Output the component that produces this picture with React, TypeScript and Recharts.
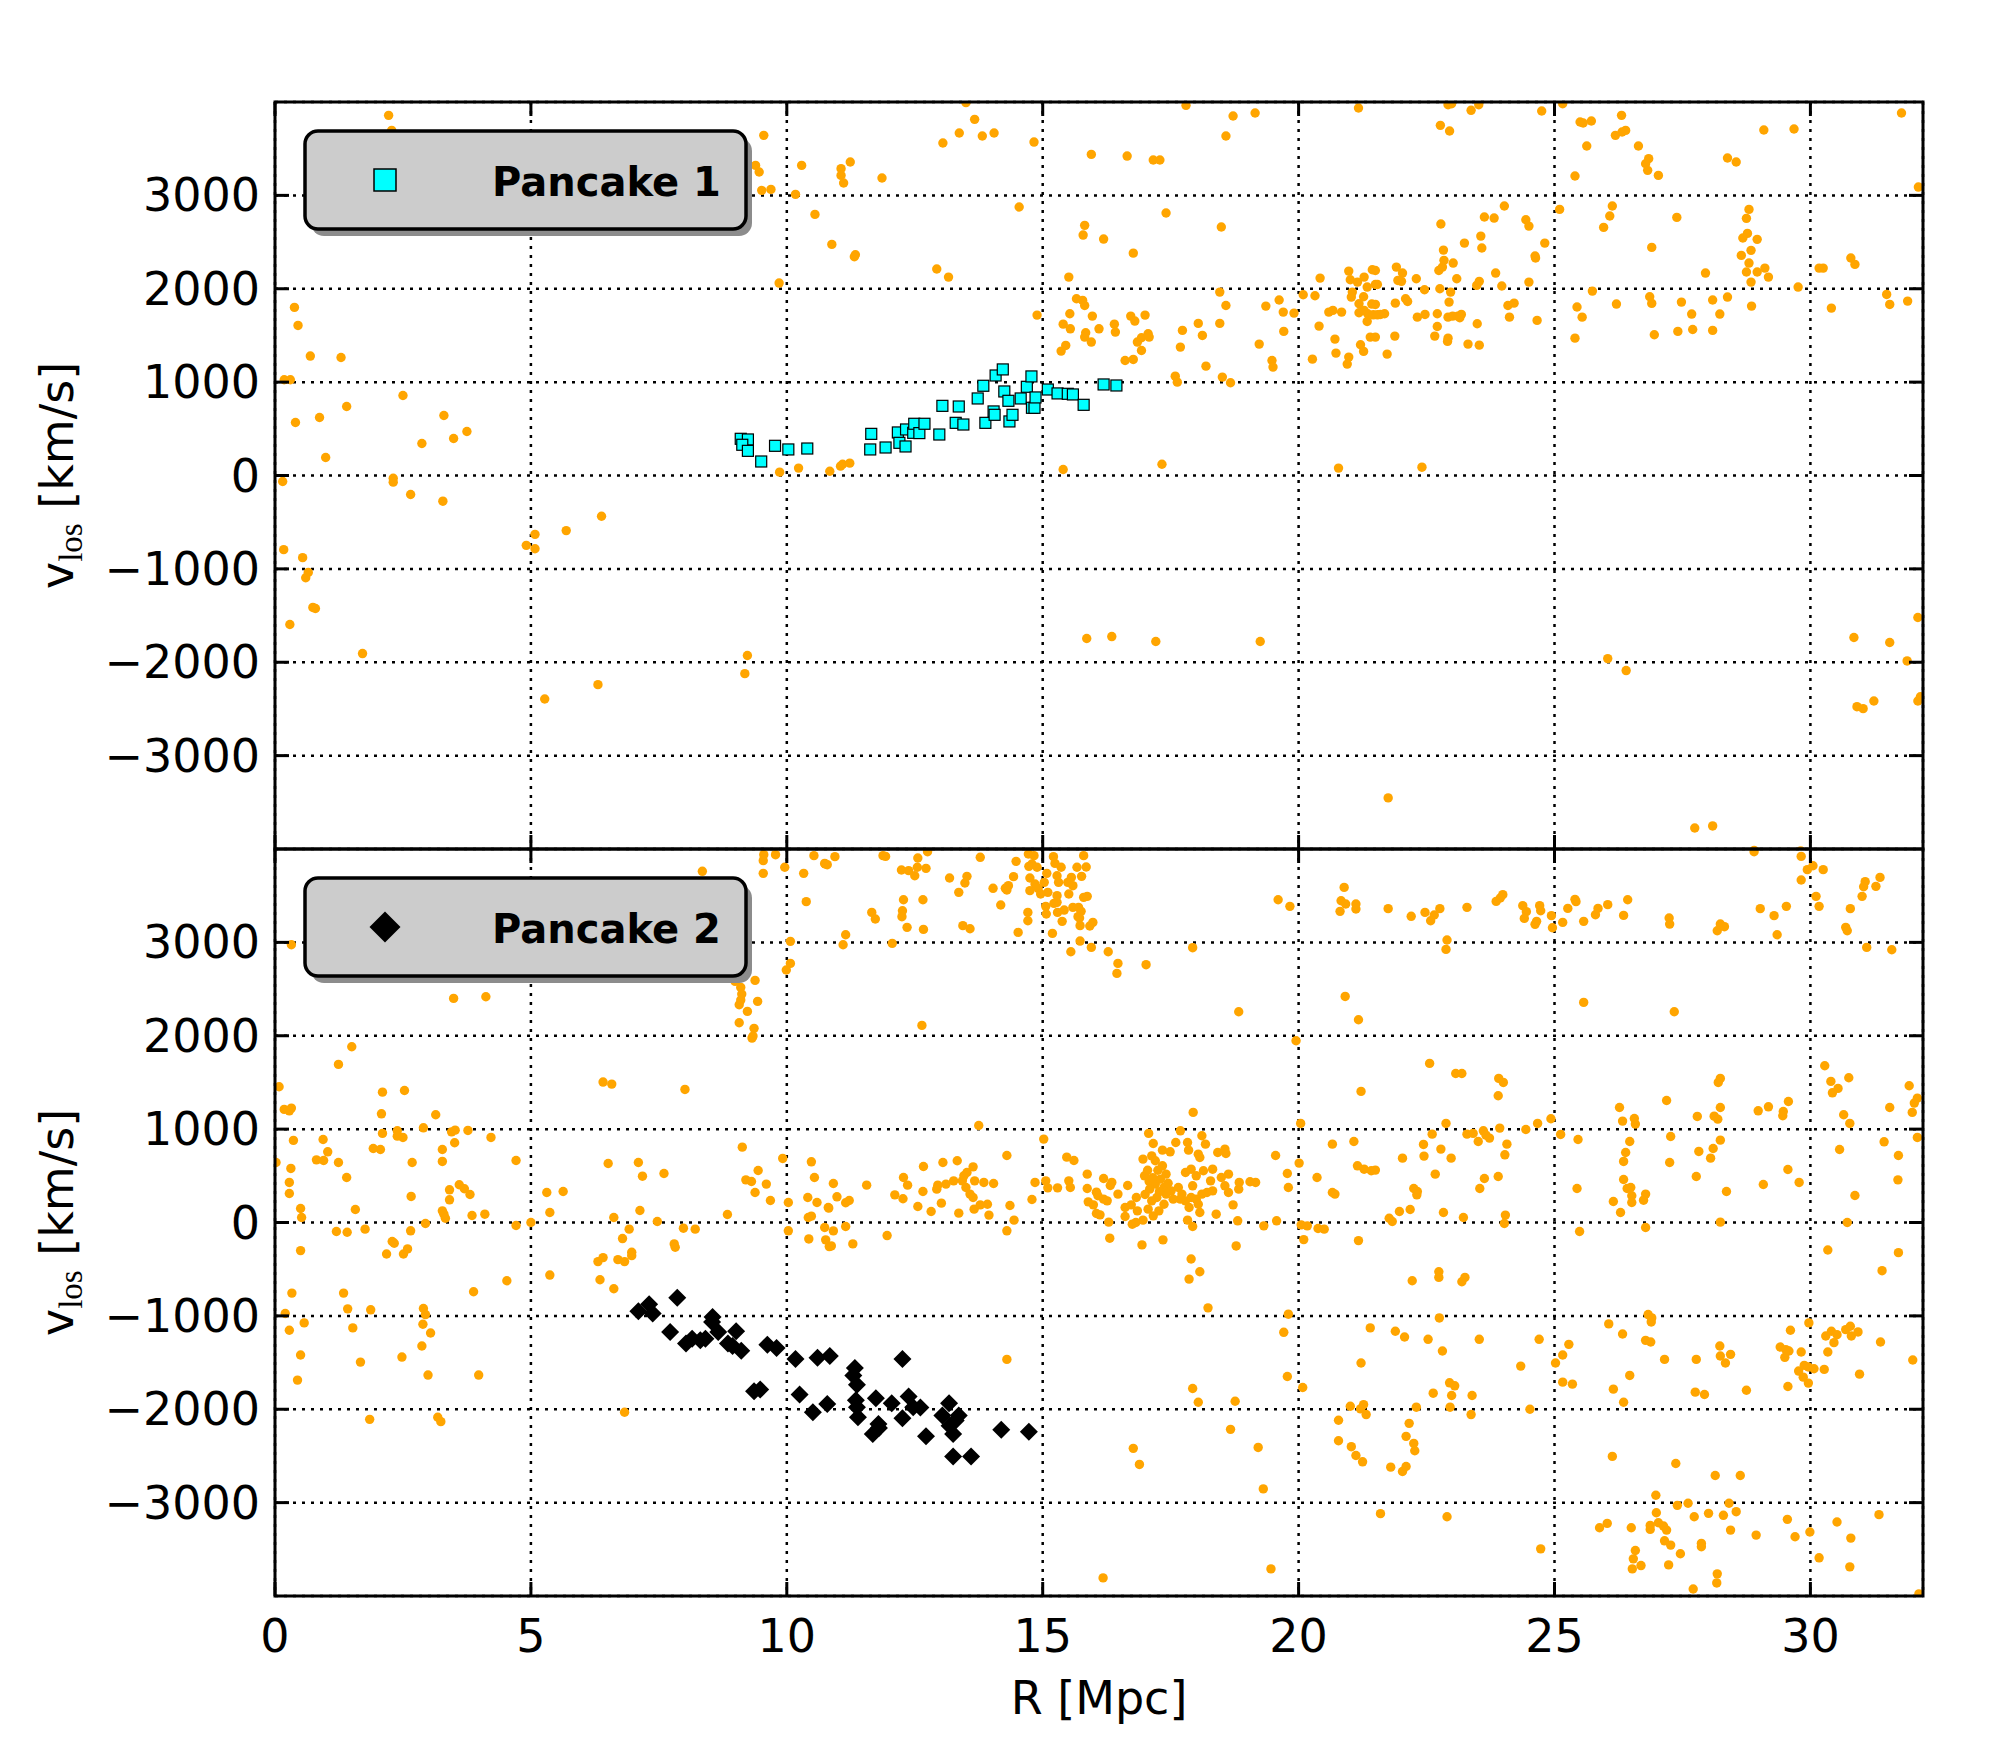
import { CartesianGrid, Scatter, ScatterChart, XAxis, YAxis } from "recharts";

type Pt = [number, number];

// [R in Mpc, v_los in km/s]
const topField: Pt[] = [
  [2.22, 3857], [2.28, 3696], [9.55, 3643], [9.39, 3321], [9.46, 3250], [10.29, 3321], [9.51, 3054], [9.69, 3064],
  [10.17, 3011], [10.55, 2796], [10.88, 2475], [9.85, 2061], [0.38, 1800], [0.45, 1607], [0.69, 1279], [1.29, 1264],
  [0.18, 1025], [0.30, 1025], [2.50, 857], [1.40, 739], [0.87, 621], [0.40, 568], [3.30, 643], [3.75, 471],
  [3.49, 396], [2.87, 343], [0.99, 193], [0.15, -64], [2.31, -29], [2.31, -71], [9.86, 36], [10.23, 79], [10.84, 46],
  [13.50, 3993], [13.67, 3814], [13.37, 3668], [13.82, 3636], [14.05, 3668], [13.05, 3561], [14.83, 3571],
  [11.24, 3357], [11.06, 3286], [11.06, 3214], [11.11, 3132], [11.86, 3186], [15.95, 3439], [16.65, 3421],
  [17.16, 3379], [17.29, 3379], [17.80, 3964], [18.72, 3850], [19.15, 3882], [18.58, 3636], [21.17, 3936],
  [14.54, 2875], [17.41, 2811], [15.82, 2679], [15.79, 2575], [16.19, 2532], [16.77, 2382], [18.49, 2661],
  [11.34, 2364], [11.32, 2343], [12.93, 2211], [13.16, 2125], [15.51, 2125], [14.89, 1718],
  [20.98, 2189], [21.44, 2204], [21.28, 2125], [20.42, 2114], [21.50, 2046], [21.01, 2096], [21.15, 2071],
  [21.34, 2018], [20.09, 1936], [20.32, 1925], [21.03, 1911], [21.27, 1914], [21.05, 1964], [21.18, 1839],
  [21.43, 1836], [20.59, 1750], [20.67, 1768], [20.84, 1750], [21.18, 1743], [21.35, 1732], [21.28, 1768],
  [21.46, 1721], [21.60, 1725], [21.34, 1650], [20.40, 1600], [21.40, 1482], [21.21, 1400], [21.27, 1329],
  [20.71, 1461], [20.73, 1311], [20.98, 1268], [20.95, 1193], [20.27, 1246], [20.78, 79],
  [15.66, 1893], [15.78, 1875], [15.82, 1821], [15.53, 1732], [15.97, 1707], [15.40, 1621], [15.54, 1571],
  [16.10, 1571], [16.40, 1621], [16.42, 1536], [16.72, 1707], [16.80, 1654], [17.00, 1718], [15.84, 1529],
  [15.82, 1482], [15.95, 1429], [15.45, 1393], [15.36, 1332], [16.61, 1232], [16.77, 1243], [16.85, 1429],
  [16.93, 1475], [17.06, 1518], [17.08, 1482], [16.93, 1339], [17.73, 1554], [18.04, 1629], [18.12, 1500],
  [17.69, 1375], [18.46, 1964], [18.58, 1821], [18.46, 1629], [18.19, 1171], [17.59, 1064], [17.63, 1000],
  [18.51, 1054], [18.67, 993], [19.36, 1814], [19.62, 1879], [19.70, 1750], [19.91, 1739], [19.71, 1543],
  [19.23, 1407], [19.48, 1232], [19.50, 1161], [15.40, 64], [17.33, 121], [11.09, 121], [11.23, 132], [11.05, 100],
  [22.92, 3971], [22.99, 3982], [23.52, 3971], [23.37, 3911], [22.77, 3750], [22.95, 3689], [24.75, 3904],
  [25.16, 3982], [25.50, 3786], [25.56, 3775], [25.72, 3796], [26.31, 3857], [26.19, 3643], [26.32, 3679],
  [26.39, 3696], [25.63, 3529], [26.64, 3529], [26.84, 3393], [26.78, 3339], [26.82, 3268], [27.03, 3214],
  [25.40, 3207], [28.38, 3400], [28.55, 3357], [29.09, 3700], [29.68, 3711], [31.78, 3882], [32.11, 3089],
  [24.02, 2886], [23.63, 2768], [23.82, 2757], [22.78, 2693], [23.24, 2489], [23.56, 2564], [23.58, 2436],
  [24.44, 2739], [24.50, 2671], [24.81, 2489], [24.62, 2350], [24.63, 2329], [22.83, 2414], [22.84, 2304],
  [23.02, 2275], [22.74, 2196], [22.81, 2232], [21.91, 2232], [22.03, 2168], [21.94, 2089], [22.01, 2079],
  [21.50, 2196], [21.54, 2046], [22.30, 2107], [22.46, 1989], [22.76, 2000], [22.97, 1964], [23.09, 2107],
  [23.48, 2036], [23.53, 2079], [23.85, 2168], [23.97, 2029], [24.50, 2071], [22.94, 1857], [22.09, 1893],
  [22.13, 1864], [21.89, 1846], [21.50, 1832], [21.54, 1721], [21.68, 1732], [22.32, 1696], [22.47, 1725],
  [22.71, 1732], [22.92, 1696], [23.01, 1707], [23.11, 1707], [23.18, 1725], [23.15, 1689], [24.09, 1821],
  [24.21, 1846], [24.12, 1696], [24.66, 1661], [22.71, 1596], [23.49, 1625], [22.66, 1493], [21.88, 1493],
  [21.50, 1482], [22.92, 1471], [22.91, 1436], [23.31, 1407], [23.53, 1396], [21.73, 1300], [22.41, 89],
  [25.10, 2850], [26.13, 2886], [26.08, 2779], [25.96, 2657], [27.39, 2764], [26.90, 2443], [28.80, 2850],
  [28.75, 2754], [28.77, 2593], [28.68, 2543], [28.96, 2529], [28.84, 2411], [28.65, 2357], [28.80, 2275],
  [29.11, 2221], [28.75, 2179], [28.96, 2179], [29.18, 2125], [28.84, 2071], [27.95, 2168], [29.76, 2018],
  [30.17, 2221], [30.25, 2221], [30.79, 2329], [30.87, 2261], [25.74, 1975], [25.44, 1804], [25.54, 1696],
  [25.40, 1471], [26.21, 1836], [26.86, 1914], [26.90, 1843], [26.95, 1507], [27.48, 1857], [27.68, 1729],
  [27.41, 1543], [27.70, 1564], [28.09, 1879], [28.38, 1911], [28.23, 1729], [28.09, 1554], [28.85, 1814],
  [30.41, 1793], [31.49, 1939], [31.55, 1832], [31.90, 1868],
  [2.65, -204], [3.28, -275], [0.17, -794], [0.54, -880], [0.65, -1038], [0.60, -1095], [0.74, -1413],
  [0.79, -1424], [0.29, -1596], [1.71, -1907], [4.91, -748], [5.08, -630], [5.08, -784], [5.69, -590],
  [6.38, -436], [5.27, -2394], [6.31, -2240], [9.23, -1928], [9.18, -2122], [15.86, -1746], [16.35, -1725],
  [17.21, -1778], [19.25, -1778], [21.75, -3453], [26.04, -1961], [26.40, -2089], [27.74, -3775],
  [28.09, -3753], [28.90, -4015], [29.81, -4020], [30.85, -1735], [31.55, -1789], [32.10, -1521],
  [31.89, -1986], [30.91, -2476], [31.03, -2497], [31.24, -2415], [32.10, -2415], [32.15, -2369],
];

const pancake1: Pt[] = [
  [9.10, 393], [9.24, 386], [9.13, 329], [9.24, 264], [9.50, 150], [9.77, 318], [10.03, 279], [10.40, 289],
  [11.65, 446], [11.63, 279], [11.93, 300], [12.17, 461], [12.20, 350], [12.32, 311], [12.33, 493], [12.47, 457],
  [12.49, 554], [12.59, 454], [12.69, 554], [12.98, 439], [13.04, 746], [13.30, 564], [13.36, 739], [13.45, 546],
  [13.73, 825], [13.84, 961], [13.88, 564], [14.04, 686], [14.06, 650], [14.08, 1071], [14.22, 1136], [14.25, 900],
  [14.33, 800], [14.35, 579], [14.41, 650], [14.57, 825], [14.69, 950], [14.78, 1061], [14.79, 725], [14.84, 725],
  [14.86, 836], [15.10, 921], [15.29, 879], [15.49, 875], [15.59, 868], [15.80, 757], [16.19, 975], [16.44, 964],
];

const bottomField: Pt[] = [
  [0.32, 2975], [3.49, 2400], [4.12, 2418], [1.50, 1882], [1.24, 1693], [0.08, 1454], [2.10, 1396], [2.53, 1414],
  [0.18, 1211], [0.32, 1225], [0.28, 1196], [2.08, 1164], [3.14, 1154], [0.36, 879], [0.94, 889], [1.03, 757],
  [0.81, 671], [0.95, 664], [1.24, 643], [2.10, 954], [2.39, 982], [2.39, 925], [2.50, 911], [1.92, 793],
  [2.06, 782], [2.90, 1014], [3.45, 971], [3.52, 989], [3.77, 986], [3.51, 854], [3.27, 782], [3.27, 654],
  [4.22, 911], [2.68, 643], [4.71, 664], [0.02, 643], [0.31, 579], [0.28, 429], [0.28, 311], [1.40, 482],
  [1.57, 139], [0.50, 150], [0.52, 54], [2.66, 279], [3.41, 350], [3.60, 404], [3.70, 361], [3.81, 300],
  [3.41, 243], [3.27, 125], [3.30, 89], [3.33, 46], [3.85, 75], [4.10, 89], [2.94, -11], [4.71, -32], [5.00, 0],
  [1.20, -96], [1.41, -104], [1.76, -71], [2.65, -89], [5.31, 321], [5.63, 332], [5.37, 107], [6.41, 1504],
  [6.58, 1482], [8.01, 1425], [6.51, 632], [7.10, 643], [7.18, 496], [7.60, 525], [6.62, 54], [7.13, 129],
  [6.92, -71], [7.47, 11], [7.98, -61], [8.21, -71], [8.84, 86], [9.13, 807], [9.92, 686], [9.20, 457],
  [9.31, 439], [9.44, 557], [9.60, 411], [9.38, 321], [9.68, 236], [10.03, 214], [10.03, -89], [10.48, 650],
  [10.54, 482], [10.41, 268], [10.59, 214], [10.81, 161], [10.42, 54], [10.48, 68], [10.74, -54],
  [8.35, 3761], [9.54, 3875], [9.55, 3939], [9.78, 3939], [9.54, 3739], [9.96, 3804], [10.33, 3739],
  [10.53, 3929], [10.74, 3846], [10.79, 3832], [10.38, 3436], [10.07, 3011], [10.07, 2775], [9.99, 2704],
  [9.38, 2593], [8.99, 2582], [9.10, 2518], [9.12, 2446], [9.10, 2382], [9.07, 2332], [9.43, 2368],
  [9.23, 2261], [9.07, 2139], [9.36, 2079], [9.32, 1975], [9.34, 1996],
  [10.75, 3839], [10.94, 3918], [11.88, 3929], [11.93, 3921], [12.56, 3904], [12.75, 3971], [12.24, 3775],
  [12.38, 3768], [12.50, 3714], [12.55, 3804], [12.72, 3793], [13.18, 3689], [13.52, 3707], [13.48, 3636],
  [13.36, 3536], [13.78, 3911], [14.03, 3579], [14.27, 3579], [14.33, 3607], [14.30, 3561], [14.18, 3400],
  [14.48, 3868], [14.43, 3704], [14.72, 3946], [14.83, 3929], [14.79, 3839], [14.73, 3814], [14.89, 3804],
  [14.75, 3689], [14.85, 3625], [14.75, 3554], [14.91, 3579], [15.03, 3643], [15.08, 3739], [15.21, 3918],
  [15.24, 3846], [15.36, 3804], [15.28, 3714], [15.31, 3643], [15.10, 3536], [14.96, 3518], [15.49, 3643],
  [15.56, 3696], [15.59, 3607], [15.67, 3804], [15.85, 3807], [15.80, 3929], [15.76, 3707], [15.28, 3500],
  [15.51, 3518], [15.80, 3482], [15.87, 3493], [15.28, 3429], [15.22, 3418], [15.06, 3386], [15.07, 3304],
  [15.29, 3321], [15.42, 3346], [15.70, 3375], [15.59, 3375], [15.75, 3332], [15.69, 3275], [15.72, 3261],
  [15.38, 3225], [15.73, 3179], [15.98, 3214], [15.92, 3175], [15.19, 3096], [14.71, 3321], [14.71, 3232],
  [14.52, 3107], [12.28, 3457], [12.66, 3457], [12.26, 3339], [12.25, 3275], [11.66, 3321], [11.73, 3250],
  [12.35, 3161], [12.67, 3139], [13.44, 3179], [13.58, 3146], [11.15, 3082], [11.10, 2975], [12.06, 2989],
  [15.73, 3014], [15.55, 2900], [15.95, 2946], [16.28, 2900], [16.47, 2775], [16.45, 2668], [17.02, 2761],
  [17.93, 2943], [12.64, 2111], [19.60, 3457], [19.83, 3386], [20.89, 3589], [20.83, 3446], [20.92, 3411],
  [20.81, 3332], [21.12, 3411], [21.12, 3357], [20.91, 2421], [21.17, 2171], [18.83, 2257], [19.95, 1946],
  [21.22, 1404], [17.94, 1179], [13.75, 1039], [20.04, 1061],
  [15.02, 893], [14.30, 718], [12.67, 600], [13.05, 643], [13.33, 661], [13.64, 596], [12.28, 482], [12.36, 400],
  [11.56, 400], [10.91, 418], [10.98, 275], [11.15, 211], [11.22, 236], [10.82, 154], [12.11, 296], [12.27, 254],
  [12.66, 332], [12.56, 171], [12.82, 118], [13.02, 207], [12.95, 400], [12.93, 357], [13.11, 411], [13.26, 446],
  [13.43, 446], [13.46, 500], [13.52, 536], [13.67, 446], [13.85, 429], [14.04, 418], [13.50, 375], [13.58, 304],
  [13.64, 268], [13.36, 100], [13.66, 143], [13.78, 189], [13.92, 196], [13.95, 79], [14.36, 182], [14.44, 25],
  [14.30, -89], [14.79, 246], [14.85, 429], [15.06, 446], [15.10, 371], [15.29, 371], [15.51, 446], [15.54, 375],
  [15.47, 700], [15.61, 664], [15.87, 518], [16.19, 471], [16.35, 429], [16.32, 396], [15.87, 364], [16.05, 325],
  [16.08, 286], [16.26, 232], [16.19, 250], [16.47, 304], [15.89, 221], [15.99, 189], [16.05, 96], [16.12, 82],
  [16.29, 4], [16.66, 396], [16.61, 161], [16.73, 189], [16.83, 268], [16.61, 64], [16.75, -18], [16.96, 25],
  [16.85, 125], [17.06, 143], [17.16, 71], [17.27, 125], [17.37, 196], [17.07, 954], [17.16, 846], [17.34, 775],
  [17.49, 757], [17.60, 857], [17.69, 982], [17.83, 857], [17.85, 775], [18.11, 929], [18.18, 839], [18.04, 732],
  [18.07, 696], [18.42, 750], [18.56, 786], [18.58, 739],
  [16.96, 679], [17.13, 714], [17.20, 661], [17.34, 607], [17.41, 518], [16.99, 500], [17.08, 439], [17.20, 411],
  [17.30, 464], [17.37, 375], [17.09, 357], [17.23, 268], [17.13, 232], [17.41, 304], [17.51, 339], [17.65, 375],
  [17.72, 304], [17.79, 232], [17.90, 268], [18.00, 250], [18.11, 304], [18.21, 321], [18.32, 339], [17.69, 250],
  [17.86, 161], [18.07, 107], [18.04, 196], [17.93, 393], [17.79, 536], [17.90, 571], [18.00, 500], [18.14, 554],
  [18.32, 571], [18.28, 446], [18.49, 482], [18.63, 518], [18.56, 393], [18.83, 357], [18.84, 429], [18.63, 321],
  [18.72, 189], [18.39, 89], [18.81, 18], [17.83, 25], [17.93, -43], [19.05, 436], [19.16, 429], [19.32, -36],
  [19.57, 18], [19.55, 718], [19.78, 525], [19.80, 375], [20.01, 636], [20.05, -25], [20.17, -36], [20.36, 482],
  [20.38, -64], [20.50, -71], [20.66, 839], [20.66, 321], [20.71, 304], [21.08, 868], [21.15, 607], [21.28, 571],
  [21.42, 554], [16.82, 0], [17.05, 560], [17.25, 560], [17.15, 480], [17.00, 300], [17.45, 420], [17.55, 250],
  [17.28, 330],
  [21.75, 3361], [22.20, 3279], [22.47, 3321], [22.65, 3293], [22.58, 3232], [22.76, 3361], [23.29, 3375],
  [22.90, 3025], [22.88, 2925], [23.86, 3439], [23.94, 3475], [23.99, 3511], [24.38, 3393], [24.45, 3329],
  [24.41, 3257], [24.71, 3393], [24.73, 3339], [24.65, 3225], [24.62, 3193], [24.94, 3286], [24.96, 3157],
  [25.16, 3214], [25.26, 3364], [25.40, 3461], [25.42, 3436], [25.57, 3225], [25.80, 3296], [25.85, 3364],
  [26.04, 3404], [26.35, 3289], [26.43, 3457], [27.24, 3261], [27.25, 3196], [28.18, 3125], [28.24, 3196],
  [28.32, 3168], [28.90, 3971], [29.02, 3361], [29.29, 3286], [29.53, 3386], [29.35, 3082], [29.82, 3921],
  [29.94, 3779], [30.05, 3821], [30.25, 3779], [29.82, 3668], [30.11, 3493], [30.17, 3386], [31.07, 3650],
  [31.04, 3596], [31.01, 3493], [31.36, 3696], [31.28, 3600], [30.78, 3361], [30.69, 3161], [30.72, 3125],
  [31.10, 2946], [31.59, 2921], [25.57, 2357], [27.34, 2257],
  [22.56, 1704], [23.07, 1596], [23.19, 1596], [23.91, 1543], [24.00, 1500], [23.90, 1357], [22.88, 1061],
  [24.93, 1111], [24.67, 1061], [24.44, 996], [23.93, 1011], [23.29, 946], [23.41, 954], [23.61, 982],
  [23.66, 936], [23.73, 904], [23.51, 868], [24.07, 839], [24.03, 725], [22.61, 946], [22.44, 836], [22.78, 786],
  [22.45, 711], [22.03, 689], [22.98, 689], [21.50, 561], [22.67, 518], [23.63, 471], [23.90, 493], [23.54, 364],
  [22.25, 364], [22.32, 332], [22.31, 296], [21.97, 118], [22.18, 139], [21.77, 46], [21.83, 11], [22.83, 107],
  [23.22, 54], [24.04, 79], [24.02, -11], [25.12, 943], [25.46, 889], [25.44, 364], [25.49, -96], [26.27, 1232],
  [26.33, 1086], [26.56, 1114], [26.58, 1054], [26.47, 868], [26.39, 750], [26.35, 654], [26.35, 461],
  [26.42, 364], [26.49, 375], [26.51, 286], [26.51, 214], [26.78, 304], [26.74, 239], [26.15, 225], [26.29, 107],
  [26.78, -54], [27.19, 1307], [27.27, 921], [27.25, 643], [27.79, 1136], [28.12, 1139], [28.19, 1107],
  [28.24, 1232], [28.24, 1543], [28.20, 1500], [28.24, 882], [28.10, 793], [28.05, 689], [27.82, 761],
  [27.77, 493], [28.36, 332], [28.24, 4], [28.98, 1196], [29.18, 1239], [29.47, 1189], [29.46, 1143],
  [29.57, 1296], [29.56, 568], [29.08, 407], [29.78, 429], [30.28, 1679], [30.40, 1511], [30.54, 1436],
  [30.43, 1389], [30.75, 1550], [30.65, 1154], [30.77, 1061], [30.57, 782], [30.87, 289], [30.72, 0],
  [31.93, 1464], [32.09, 1332], [32.03, 1279], [31.99, 1179], [31.55, 1232], [31.44, 864], [31.72, 718],
  [31.71, 457], [32.09, 911],
  [0.50, -301], [2.29, -204], [2.33, -222], [2.18, -337], [2.51, -337], [2.59, -283], [0.33, -756], [1.34, -756],
  [0.20, -975], [1.42, -925], [1.87, -935], [2.90, -921], [2.94, -986], [0.28, -1154], [0.57, -1075],
  [1.52, -1129], [2.89, -1090], [3.04, -1183], [2.87, -1323], [0.50, -1419], [1.67, -1495], [2.48, -1441],
  [0.44, -1688], [2.99, -1634], [3.98, -1634], [3.88, -742], [4.53, -624], [5.37, -563], [1.85, -2108],
  [3.18, -2086], [3.24, -2133], [6.31, -419], [6.41, -376], [6.35, -613], [6.62, -710], [6.70, -398],
  [6.83, -419], [6.97, -319], [6.97, -355], [6.79, -172], [7.80, -229], [7.82, -265], [6.83, -2032],
  [10.43, -176], [10.76, -186], [10.83, -258],
  [10.87, -251], [10.91, -90], [11.29, -229], [11.96, -140], [11.15, -43], [14.30, -1466], [16.31, -168],
  [16.94, -240], [17.35, -186], [17.90, -391], [18.07, -527], [17.86, -606], [18.23, -914], [18.78, -251],
  [19.80, -982], [19.71, -1176], [19.78, -1649], [20.08, -1767], [20.10, -183], [21.17, -194], [21.40, -1129],
  [21.22, -1505], [17.93, -1778], [18.04, -1925], [18.76, -1914], [18.67, -2215], [19.21, -2409],
  [19.31, -2853], [19.46, -3710], [16.77, -2419], [16.89, -2591], [16.18, -3806], [21.01, -1968],
  [21.27, -1950], [21.21, -1996], [21.32, -2057], [20.78, -2118], [20.78, -2337], [21.03, -2401],
  [21.12, -2495], [21.25, -2563], [21.60, -3118],
  [22.22, -624], [22.74, -527], [22.74, -588], [23.19, -634], [23.25, -588], [30.34, -294], [31.72, -323],
  [31.40, -516], [21.89, -1165], [22.07, -1226], [22.53, -1251], [22.75, -1022], [22.81, -1376], [23.53, -1251],
  [24.70, -1251], [24.34, -1538], [25.02, -1505], [25.16, -1419], [25.28, -1305], [25.16, -1710], [25.35, -1731],
  [22.95, -1717], [23.05, -1749], [22.63, -1828], [22.99, -1853], [23.39, -1853], [22.30, -1978], [22.96, -1978],
  [23.37, -2057], [24.52, -2000], [22.16, -2151], [22.10, -2290], [22.25, -2366], [22.27, -2444], [21.80, -2620],
  [22.03, -2667], [22.10, -2613], [22.90, -3151], [24.73, -3495], [26.06, -1086], [26.33, -1194], [26.83, -986],
  [26.90, -1022], [26.89, -1065], [26.78, -1262], [26.88, -1280], [26.47, -1638], [26.15, -1785], [26.35, -1925],
  [27.15, -1466], [27.77, -1466], [28.23, -1323], [28.24, -1430], [28.44, -1412], [28.34, -1505], [27.75, -1817],
  [27.93, -1842], [28.75, -1796], [29.41, -1333], [29.52, -1362], [29.58, -1376], [29.50, -1444], [29.61, -1154],
  [29.82, -1387], [29.97, -1075], [29.77, -1591], [29.88, -1530], [29.96, -1548], [30.07, -1566], [29.86, -1656],
  [29.96, -1720], [30.27, -1573], [29.56, -1756], [30.30, -1215], [30.41, -1165], [30.52, -1201], [30.46, -1287],
  [30.34, -1387], [30.69, -1147], [30.78, -1111], [30.80, -1215], [30.93, -1172], [30.96, -1624], [31.37, -1280],
  [32.00, -1473], [26.13, -2505], [27.37, -2581], [28.14, -2710], [28.63, -2710], [26.98, -2921], [26.99, -3108],
  [27.40, -3029], [27.61, -3007], [28.41, -3007], [28.55, -3097], [28.30, -3136], [28.01, -3115], [27.73, -3151],
  [25.88, -3269], [26.03, -3222], [26.50, -3269], [26.87, -3244], [26.87, -3287], [27.03, -3215], [27.13, -3251],
  [27.19, -3294], [27.15, -3409], [27.27, -3455], [27.46, -3548], [27.87, -3437], [27.87, -3473], [28.44, -3294],
  [28.94, -3348], [26.58, -3513], [26.54, -3602], [26.52, -3710], [26.69, -3674], [27.23, -3667], [28.18, -3763],
  [28.17, -3860], [27.71, -3925], [29.55, -3179], [29.70, -3366], [29.99, -3315], [30.17, -3591], [30.52, -3208],
  [30.79, -3380], [30.77, -3688], [31.34, -3129], [32.12, -3978],
];

const pancake2: Pt[] = [
  [7.10, -950], [7.31, -875], [7.38, -975], [7.86, -806], [7.72, -1172], [8.03, -1297], [8.15, -1244],
  [8.31, -1262], [8.41, -1244], [8.55, -1011], [8.54, -1065], [8.66, -1172], [9.01, -1165], [8.85, -1297],
  [8.94, -1323], [9.11, -1373], [9.62, -1308], [9.80, -1344], [9.36, -1806], [9.48, -1789], [10.17, -1462],
  [10.60, -1448], [10.84, -1430], [10.25, -1842], [10.51, -2032], [10.79, -1943], [11.33, -1559], [11.30, -1638],
  [11.37, -1738], [12.26, -1462], [11.35, -1903], [11.37, -1978], [11.39, -2086], [11.74, -1882], [12.05, -1935],
  [12.38, -1864], [12.47, -1978], [12.61, -1982], [12.26, -2097], [11.79, -2158], [11.68, -2265], [11.80, -2200],
  [12.72, -2290], [13.17, -1935], [13.04, -2068], [13.36, -2068], [13.18, -2176], [13.25, -2265], [13.30, -2120],
  [13.25, -2505], [13.60, -2505], [14.19, -2219], [14.73, -2240],
];

const xTicks = [0, 5, 10, 15, 20, 25, 30];
const yTicks = [-3000, -2000, -1000, 0, 1000, 2000, 3000];

// page layout (px)
const W = 2000;
const H = 1754;
const PL = 275;
const PR = 1923;
const PT = 102;
const PM = 849;
const PB = 1596;
const TICK = 14;
const FONT = "'DejaVu Sans', sans-serif";

const toPts = (list: Pt[]) => list.map(([x, y]) => ({ x, y }));

const orangeDot = (p: any) => <circle cx={p.cx} cy={p.cy} r={4.7} fill="#ffa500" />;
const cyanSquare = (p: any) => (
  <rect x={p.cx - 5.5} y={p.cy - 5.5} width={11} height={11} fill="#00ffff" stroke="#000" strokeWidth={1.2} />
);
const blackDiamond = (p: any) => (
  <polygon
    points={`${p.cx},${p.cy - 9} ${p.cx + 9},${p.cy} ${p.cx},${p.cy + 9} ${p.cx - 9},${p.cy}`}
    fill="#000"
  />
);

const fmt = (v: number) => (v < 0 ? `\u2212${Math.abs(v)}` : `${v}`);

function Panel({ field, special, shape, first }: { field: Pt[]; special: Pt[]; shape: any; first: boolean }) {
  // the x axis gets 1px of height so that Recharts draws its ticks
  const height = first ? PM + 1 : H - PM;
  const plotTop = first ? PT : 0;
  const plotBottom = first ? PM : PB - PM;

  const xTick = (props: any) => {
    const { x, payload } = props;
    return (
      <g>
        <line x1={x} x2={x} y1={plotBottom} y2={plotBottom - TICK} stroke="#000" strokeWidth={3} />
        <line x1={x} x2={x} y1={plotTop} y2={plotTop + TICK} stroke="#000" strokeWidth={3} />
        {!first && (
          <text x={x} y={plotBottom + 56} textAnchor="middle" fontSize={46} fontFamily={FONT} fill="#000">
            {payload.value}
          </text>
        )}
      </g>
    );
  };

  const yTick = (props: any) => {
    const { y, payload } = props;
    return (
      <g>
        <line x1={PL} x2={PL + TICK} y1={y} y2={y} stroke="#000" strokeWidth={3} />
        <line x1={PR - TICK} x2={PR} y1={y} y2={y} stroke="#000" strokeWidth={3} />
        <text x={PL - 15} y={y} dy={16} textAnchor="end" fontSize={46} fontFamily={FONT} fill="#000">
          {fmt(payload.value)}
        </text>
      </g>
    );
  };

  return (
    <div style={{ position: "absolute", left: 0, top: first ? 0 : PM }}>
      <ScatterChart
        width={W}
        height={height}
        margin={first ? { top: PT, right: W - PR, bottom: 0, left: 0 } : { top: 0, right: W - PR, bottom: H - PB - 1, left: 0 }}
      >
        <CartesianGrid stroke="#000" strokeWidth={2.5} strokeDasharray="3 6" />
        <XAxis
          type="number"
          dataKey="x"
          domain={[0, 32.2]}
          ticks={xTicks}
          interval={0}
          allowDataOverflow
          height={1}
          axisLine={false}
          tickLine={false}
          tick={xTick}
        />
        <YAxis
          type="number"
          dataKey="y"
          domain={[-4000, 4000]}
          ticks={yTicks}
          interval={0}
          allowDataOverflow
          width={PL}
          axisLine={false}
          tickLine={false}
          tickSize={0}
          tick={yTick}
        />
        <Scatter data={toPts(field)} shape={orangeDot} isAnimationActive={false} />
        <Scatter data={toPts(special)} shape={shape} isAnimationActive={false} />
      </ScatterChart>
    </div>
  );
}

function LegendBox({ top, label, square }: { top: number; label: string; square: boolean }) {
  const x = 305;
  const w = 441;
  const h = 98;
  const cx = 385;
  const cy = top + 49;
  return (
    <g>
      <rect x={x + 6} y={top + 7} width={w} height={h} rx={13} fill="#8c8c8c" />
      <rect x={x} y={top} width={w} height={h} rx={13} fill="#cccccc" stroke="#000" strokeWidth={3.5} />
      {square ? (
        <rect x={cx - 11} y={cy - 11} width={22} height={22} fill="#00ffff" stroke="#000" strokeWidth={1.5} />
      ) : (
        <polygon points={`${cx},${cy - 15.5} ${cx + 15.5},${cy} ${cx},${cy + 15.5} ${cx - 15.5},${cy}`} fill="#000" />
      )}
      <text x={492} y={top + 65} fontSize={40} fontWeight="bold" fontFamily={FONT} fill="#000">
        {label}
      </text>
    </g>
  );
}

function YLabel({ cy }: { cy: number }) {
  return (
    <text transform={`translate(73, ${cy}) rotate(-90)`} textAnchor="middle" fontSize={46} fontFamily={FONT} fill="#000">
      v
      <tspan fontFamily="'Liberation Serif', serif" fontSize={33} dy={9}>
        los
      </tspan>
      <tspan dy={-9}> [km/s]</tspan>
    </text>
  );
}

export default function App() {
  return (
    <div style={{ position: "absolute", left: 0, top: 0, width: W, height: H, background: "#fff", fontFamily: FONT }}>
      <Panel field={topField} special={pancake1} shape={cyanSquare} first />
      <Panel field={bottomField} special={pancake2} shape={blackDiamond} first={false} />
      <svg width={W} height={H} style={{ position: "absolute", left: 0, top: 0, pointerEvents: "none" }}>
        <rect x={PL} y={PT} width={PR - PL} height={PM - PT} fill="none" stroke="#000" strokeWidth={3} />
        <rect x={PL} y={PM} width={PR - PL} height={PB - PM} fill="none" stroke="#000" strokeWidth={3} />
        <LegendBox top={131} label="Pancake 1" square />
        <LegendBox top={878} label="Pancake 2" square={false} />
        <YLabel cy={(PT + PM) / 2} />
        <YLabel cy={(PM + PB) / 2} />
        <text x={(PL + PR) / 2} y={1714} textAnchor="middle" fontSize={46} fontFamily={FONT} fill="#000">
          R [Mpc]
        </text>
      </svg>
    </div>
  );
}
